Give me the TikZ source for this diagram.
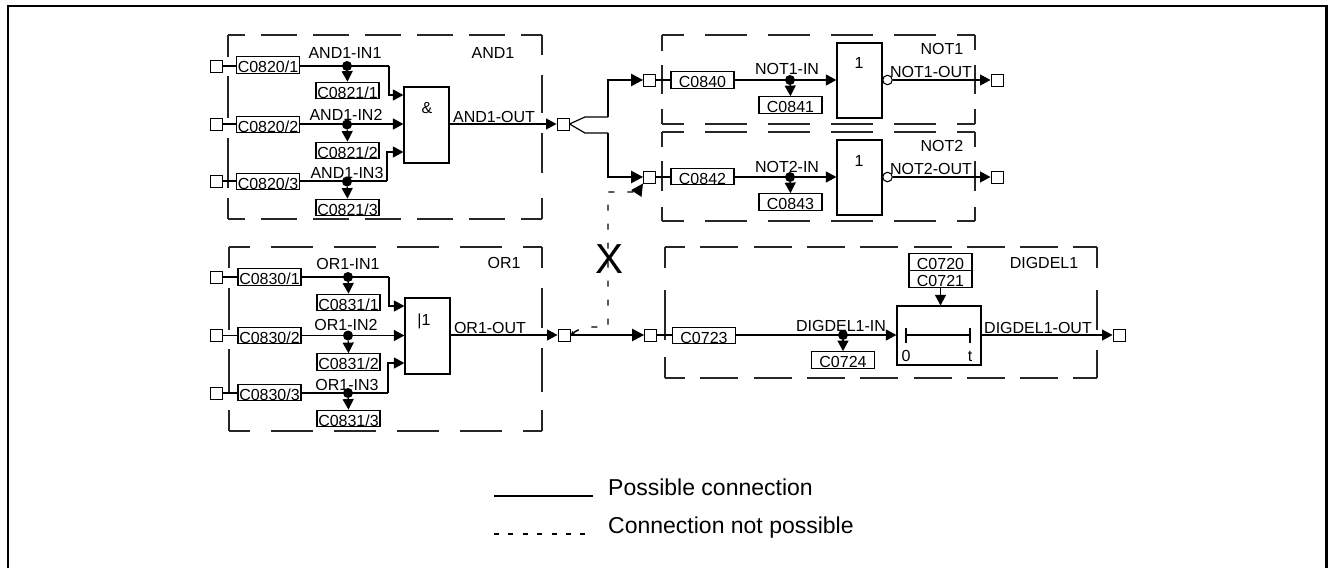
\documentclass[tikz,border=0pt]{standalone}
\usepackage{fontspec}
\setmainfont{Liberation Sans}
\usetikzlibrary{arrows.meta}
\tikzset{
  x=1pt,y=-1pt,
  every node/.style={font=\fontsize{16}{16}\selectfont},
  wire/.style={line width=1.2pt,line join=miter},
  flow/.style={wire,-{Triangle[length=10.5pt,width=11pt]}},
  bigflow/.style={wire,-{Triangle[length=12pt,width=12.5pt]}},
  grouped/.style={line width=1.2pt,black!85},
  parambox/.style={draw,line width=1.2pt,inner sep=0pt,minimum width=63pt,text height=16pt,text depth=.6pt},
  portbox/.style={draw,line width=1pt,fill=white,inner sep=0pt,minimum size=12pt},
  gatebox/.style={draw,line width=1.2pt,inner sep=0pt},
  joint/.style={circle,fill=black,inner sep=0pt,minimum size=10pt},
  inverter/.style={circle,draw,line width=1.1pt,fill=white,inner sep=0pt,minimum size=9.5pt},
  lbl/.style={anchor=base,inner sep=0pt},
  nogo/.style={line width=1.4pt,dash pattern=on 6pt off 13pt},
}
% x1,y1,x2,y2, horizontal dash on, off, phase, left pattern, right pattern
\newcommand{\groupframe}[9]{%
  \draw[grouped,dash pattern=on #5pt off #6pt,dash phase=#7pt] (#1,#2) -- (#3,#2) (#1,#4) -- (#3,#4);
  \draw[grouped,dash pattern=#8] (#1,#2) -- (#1,#4);
  \draw[grouped,dash pattern=#9] (#3,#2) -- (#3,#4);}
\newcommand{\inchan}[5]{% id, porty, boxcx, boxcy, text
  \node[portbox] (p#1) at (216,#2) {};
  \node[parambox] (c#1) at (#3,#4) {#5};
}
\begin{document}
\begin{tikzpicture}
\useasboundingbox (0,0) rectangle (1333,568);
\coordinate (fa) at (8,568); \coordinate (fb) at (8,6);
\coordinate (fc) at (1326.5,6); \coordinate (fd) at (1326.5,568);
\draw[line width=2.4pt,line join=miter] (fa) -- (fb) -- (fc) -- (fd);

% dashed groups
\groupframe{228}{35}{542}{219}{36}{16}{19}{on 22pt off 19pt on 42pt off 20pt on 50pt off 10pt on 21pt}{on 20pt off 20pt on 38pt off 20pt on 40pt off 25pt on 21pt}
\groupframe{662}{35}{975}{124}{42}{21}{20}{on 16pt off 14pt on 29pt off 15pt on 15pt}{on 15pt off 15pt on 29pt off 15pt on 15pt}
\groupframe{662}{132}{975}{221}{42}{21}{20}{on 15pt off 14pt on 30pt off 16pt on 14pt}{on 15pt off 14pt on 30pt off 16pt on 14pt}
\groupframe{229}{247}{542}{431}{42}{21}{21}{on 21pt off 20pt on 42pt off 19pt on 44pt off 17pt on 21pt}{on 21pt off 20pt on 40pt off 20pt on 44pt off 18pt on 21pt}
\groupframe{665}{247}{1097}{378}{38}{15.3}{18}{on 21pt off 22pt on 50pt off 17pt on 21pt}{on 21pt off 22pt on 40pt off 20pt on 28pt}

% AND1
\node[lbl] (tand) at (493,58) {AND1};
\inchan{a1}{66}{268}{65}{C0820/1}
\inchan{a2}{124}{268}{124.5}{C0820/2}
\inchan{a3}{181}{268}{181.5}{C0820/3}
\node[joint] (da1) at (347,66) {};
\node[joint] (da2) at (347,124.5) {};
\node[joint] (da3) at (347,181.5) {};
\node[parambox] (t1) at (347.5,90.5) {C0821/1};
\node[parambox] (t2) at (347.5,150.5) {C0821/2};
\node[parambox] (t3) at (347.5,207.5) {C0821/3};
\node[lbl] (la1) at (345,58) {AND1-IN1};
\node[lbl] (la2) at (346,120) {AND1-IN2};
\node[lbl] (la3) at (347,178) {AND1-IN3};
\node[gatebox,minimum width=45pt,minimum height=76pt] (gand) at (426.5,125) {};
\node[lbl] (amp) at (427,113) {\&};
\node[lbl] (laout) at (494,122) {AND1-OUT};
\node[portbox] (pand) at (563,124) {};
\coordinate (ga1) at (gand.west |- 0,95);
\coordinate (ga2) at (gand.west |- 0,124);
\coordinate (ga3) at (gand.west |- 0,152);
\coordinate (ka1) at (389,66); \coordinate (ka3) at (387,181);
\foreach \i in {1,2,3} {
  \draw[wire] (pa\i.east) -- (ca\i.west |- pa\i.east);
  \draw[flow] (da\i) -- (t\i.north);
}
\draw[wire] (ca1.east |- pa1) -- (ka1);
\draw[flow] (ka1) |- (ga1);
\draw[flow] (ca2.east |- pa2) -- (ga2);
\draw[wire] (ca3.east |- pa3) -- (ka3);
\draw[flow] (ka3) |- (ga3);
\draw[flow] (gand.east |- pand) -- (pand.west);

% NOT1, NOT2
\node[lbl] (tn1) at (942,54) {NOT1};
\node[lbl] (tn2) at (942,151) {NOT2};
\node[portbox] (pn1) at (649.5,80) {};
\node[portbox] (pn2) at (649.5,177) {};
\node[parambox] (cn1) at (702.5,80) {C0840};
\node[parambox] (cn2) at (702.5,176.5) {C0842};
\node[joint] (dn1) at (790,80) {};
\node[joint] (dn2) at (790,177) {};
\node[parambox] (tn1b) at (790.5,105) {C0841};
\node[parambox] (tn2b) at (790.5,202) {C0843};
\node[gatebox,minimum width=45pt,minimum height=75pt] (gn1) at (859.5,80.5) {};
\node[gatebox,minimum width=45pt,minimum height=75pt] (gn2) at (859.5,177.5) {};
\node[lbl] (one1) at (859,68) {1};
\node[lbl] (one2) at (859,166) {1};
\node[inverter] (in1) at (887.5,80) {};
\node[inverter] (in2) at (887.5,177) {};
\node[portbox] (qn1) at (997,80) {};
\node[portbox] (qn2) at (997,177) {};
\node[lbl] (ln1) at (787,74) {NOT1-IN};
\node[lbl] (ln2) at (787,172) {NOT2-IN};
\node[lbl] (lo1) at (931,77) {NOT1-OUT};
\node[lbl] (lo2) at (931,174) {NOT2-OUT};
\foreach \i in {1,2} {
  \draw[wire] (pn\i.east) -- (cn\i.west |- pn\i);
  \draw[flow] (cn\i.east |- pn\i) -- (gn\i.west |- pn\i);
  \draw[flow] (in\i.east) -- (qn\i.west);
}
\draw[flow] (dn1) -- (tn1b.north);
\draw[flow] (dn2) -- (tn2b.north);

% fork
\coordinate (fu) at (585,117); \coordinate (fl) at (585,133);
\coordinate (fx) at (608,0);
\draw[wire] (pand.east) -- (fu) -- (fx |- fu);
\draw[bigflow] (fx |- fu) |- (pn1.west);
\draw[wire] (pand.east) -- (fl) -- (fx |- fl);
\draw[bigflow] (fx |- fl) |- (pn2.west);

% OR1
\node[lbl] (tor) at (504,268) {OR1};
\inchan{o1}{277}{269.5}{277}{C0830/1}
\inchan{o2}{335.5}{269.5}{335.5}{C0830/2}
\inchan{o3}{393}{269.5}{392.5}{C0830/3}
\node[joint] (do1) at (348,277) {};
\node[joint] (do2) at (348,335.5) {};
\node[joint] (do3) at (348,393) {};
\node[parambox] (u1) at (348.5,302.5) {C0831/1};
\node[parambox] (u2) at (348.5,362) {C0831/2};
\node[parambox] (u3) at (348.5,418.5) {C0831/3};
\node[lbl] (lo1b) at (348,269) {OR1-IN1};
\node[lbl] (lo2b) at (346,330) {OR1-IN2};
\node[lbl] (lo3b) at (347,390) {OR1-IN3};
\node[gatebox,minimum width=45pt,minimum height=76pt] (gor) at (427.5,336) {};
\node[lbl] (bar) at (424,325) {|1};
\node[lbl] (loout) at (490,333) {OR1-OUT};
\node[portbox] (por) at (564,335) {};
\coordinate (go1) at (gor.west |- 0,306);
\coordinate (go2) at (gor.west |- 0,335.5);
\coordinate (go3) at (gor.west |- 0,363);
\coordinate (ko1) at (389,277); \coordinate (ko3) at (388,393);
\foreach \i in {1,2,3} {
  \draw[wire] (po\i.east) -- (co\i.west |- po\i.east);
  \draw[flow] (do\i) -- (u\i.north);
}
\draw[wire] (co1.east |- po1) -- (ko1);
\draw[flow] (ko1) |- (go1);
\draw[flow] (co2.east |- po2) -- (go2);
\draw[wire] (co3.east |- po3) -- (ko3);
\draw[flow] (ko3) |- (go3);
\draw[flow] (gor.east |- por) -- (por.west);

% DIGDEL1
\node[lbl] (tdd) at (1044,268) {DIGDEL1};
\node[portbox] (pd) at (650.5,335) {};
\node[parambox] (cd) at (704,335.5) {C0723};
\node[joint] (dd) at (843,335) {};
\node[parambox] (td) at (843,360) {C0724};
\node[gatebox,minimum width=84pt,minimum height=59pt] (gd) at (939,335.5) {};
\node[parambox] (c720) at (940.5,262) {C0720};
\node[parambox] (c721) at (940.5,279) {C0721};
\node[portbox] (qd) at (1119,335) {};
\node[lbl] (ldi) at (841,331) {DIGDEL1-IN};
\node[lbl] (ldo) at (1038,333) {DIGDEL1-OUT};
\node[lbl] (zero) at (906,361) {0};
\node[lbl] (tee) at (970,361) {t};
\coordinate (tl) at (906,335); \coordinate (tr) at (970,335);
\draw[wire] (tl) -- (tr);
\draw[wire] (906,328) -- (906,343);
\draw[wire] (970,328) -- (970,343);
\draw[bigflow] (por.east) -- (pd.west);
\draw[wire] (pd.east) -- (cd.west |- pd);
\draw[flow] (cd.east |- pd) -- (gd.west |- pd);
\draw[flow] (dd) -- (td.north);
\draw[flow] (c721.south) -- (gd.north -| c721.south);
\draw[flow] (gd.east |- qd) -- (qd.west);

% impossible connection
\coordinate (na) at (590,327); \coordinate (nb) at (608,327);
\coordinate (nc) at (608,192); \coordinate (nd) at (632,192);
\draw[nogo,{Triangle[length=4pt,width=4pt]}-{Triangle[length=12pt,width=12pt]}]
  (por.east) .. controls (576,331) and (582,327) .. (na) -- (nb) -- (nc) -- (nd) .. controls (637,192) and (640,188) .. (pn2.south west);
\node[lbl,font=\fontsize{42}{42}\selectfont] (xmark) at (609,273) {X};

% legend
\coordinate (s1) at (494,496); \coordinate (s2) at (593,496);
\coordinate (n1) at (494,534); \coordinate (n2) at (593,534);
\draw[line width=1.2pt] (s1) -- (s2);
\draw[line width=1.2pt,dash pattern=on 5pt off 9.4pt] (n1) -- (n2);
\node[anchor=base west,inner sep=0pt,font=\fontsize{23}{23}\selectfont] (leg1) at (608,495) {Possible connection};
\node[anchor=base west,inner sep=0pt,font=\fontsize{23}{23}\selectfont] (leg2) at (608,533) {Connection not possible};
\end{tikzpicture}
\end{document}
